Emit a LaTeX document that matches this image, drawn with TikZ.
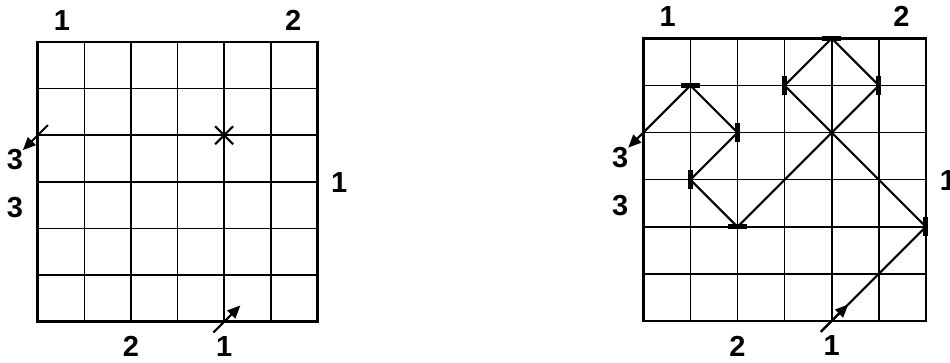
\documentclass[tikz,border=0pt]{standalone}
\usepackage{fontspec}
\setmainfont{Liberation Sans}
\usetikzlibrary{arrows.meta}
\tikzset{
  lbl/.style={font=\fontsize{29}{29}\selectfont\bfseries, inner sep=0pt},
  gridline/.style={line width=1.6pt},
  border/.style={line width=2.6pt},
  ray/.style={line width=2.1pt, line join=miter},
  arr/.style={ray, -{Triangle[length=13pt,width=11pt]}},
  hmark/.style={line width=5pt},
}
\newcommand{\boardgrid}{%
  \foreach \i in {1,...,5} {
    \draw[gridline] (\i,0) -- (\i,6);
    \draw[gridline] (0,\i) -- (6,\i);
  }
  \draw[border] (0,0) rectangle (6,6);
}
\newcommand{\boardlabels}[1]{%
  \node[lbl] (#1t1) at (0.52,6.47) {1};
  \node[lbl] (#1t2) at (5.48,6.47) {2};
  \node[lbl] (#1l3a) at (-0.49,3.47) {3};
  \node[lbl] (#1l3b) at (-0.49,2.46) {3};
  \node[lbl] (#1r1) at (6.47,2.98) {1};
  \node[lbl] (#1b2) at (2,-0.53) {2};
  \node[lbl] (#1b1) at (4,-0.53) {1};
}
\begin{document}
\begin{tikzpicture}
\useasboundingbox (0,0) rectangle (950pt,363pt);
% ---------- left board ----------
\begin{scope}[shift={(37.7pt,41.3pt)}, x=46.6pt, y=46.6pt]
  \boardgrid
  \boardlabels{L}
  \coordinate (Lcx) at (4,4);
  \draw[ray] (Lcx) ++(-9pt,-9pt) -- ++(18pt,18pt);
  \draw[ray] (Lcx) ++(-9pt,9pt) -- ++(18pt,-18pt);
  \coordinate (Lin) at (3.77,-0.23);
  \coordinate (Lintip) at (4.35,0.35);
  \coordinate (Lout) at (0.22,4.22);
  \coordinate (Louttip) at (-0.32,3.68);
  \draw[arr] (Lin) -- (Lintip);
  \draw[arr] (Lout) -- (Louttip);
\end{scope}
% ---------- right board ----------
\begin{scope}[shift={(643.3pt,42pt)}, x=47.1pt, y=47.1pt]
  \boardgrid
  \boardlabels{R}
  \coordinate (Rs) at (3.77,-0.23);
  \coordinate (Rstip) at (4.35,0.35);
  \coordinate (p1) at (6,2);
  \coordinate (p2) at (3,5);
  \coordinate (p3) at (4,6);
  \coordinate (p4) at (5,5);
  \coordinate (p5) at (2,2);
  \coordinate (p6) at (1,3);
  \coordinate (p7) at (2,4);
  \coordinate (p8) at (1,5);
  \coordinate (Re) at (-0.32,3.68);
  \draw[arr] (Rs) -- (Rstip);
  \draw[arr] (Rs) -- (p1) -- (p2) -- (p3) -- (p4) -- (p5) -- (p6) -- (p7) -- (p8) -- (Re);
  % horizontal marks
  \foreach \p in {p3,p5,p8}
    \draw[hmark] (\p) ++(-9.5pt,0) -- ++(19pt,0);
  % vertical marks
  \foreach \p in {p1,p2,p4,p6,p7}
    \draw[hmark] (\p) ++(0,-9.5pt) -- ++(0,19pt);
\end{scope}
\end{tikzpicture}
\end{document}
